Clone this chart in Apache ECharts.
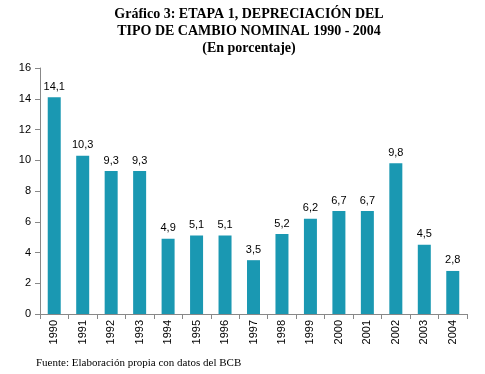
<!DOCTYPE html>
<html><head><meta charset="utf-8">
<script src="https://cdn.jsdelivr.net/npm/echarts@6/dist/echarts.min.js"></script>
<style>html,body{margin:0;padding:0;background:#fff}#c{width:485px;height:374px}</style>
</head><body><div id="c"></div>
<script>
const categories = ['1990','1991','1992','1993','1994','1995','1996','1997','1998','1999','2000','2001','2002','2003','2004'];
const values = [14.1,10.3,9.3,9.3,4.9,5.1,5.1,3.5,5.2,6.2,6.7,6.7,9.8,4.5,2.8];
const titleLines = ['Gráfico 3: ETAPA 1, DEPRECIACIÓN DEL','TIPO DE CAMBIO NOMINAL 1990 - 2004','(En porcentaje)'];
const footer = 'Fuente: Elaboración propia con datos del BCB';

const chart = echarts.init(document.getElementById('c'), null, {renderer:'canvas'});
chart.setOption({
  animation:false,
  title:[
    {text: titleLines.join('\n'), left: 244, textAlign:'center', top: 1,
     textStyle:{fontFamily:'Liberation Serif', fontWeight:'bold', fontSize:14, color:'#000', lineHeight:17}},
    {text: footer, left: 36, top: 358, padding:0,
     textStyle:{fontFamily:'Liberation Serif', fontWeight:'normal', fontSize:11, color:'#000'}}
  ],
  grid:{left:40, right:18, top:68, bottom:60},
  xAxis:{type:'category', data:categories,
    axisLine:{lineStyle:{color:'#888'}},
    axisTick:{show:true, alignWithLabel:false, length:5, lineStyle:{color:'#888'}},
    axisLabel:{rotate:90, fontFamily:'Liberation Sans', fontSize:11, color:'#000', margin:6}},
  yAxis:{type:'value', min:0, max:16, interval:2,
    splitLine:{show:false},
    axisLine:{show:true, lineStyle:{color:'#888'}},
    axisTick:{show:true, length:5, lineStyle:{color:'#888'}},
    axisLabel:{fontFamily:'Liberation Sans', fontSize:11, color:'#000', margin:9}},
  series:[{type:'bar', data:values, barWidth:13,
    itemStyle:{color:'#1a98b2'},
    label:{show:true, position:'top', distance:5, fontFamily:'Liberation Sans', fontSize:11, color:'#000',
      formatter:p=>String(p.value).replace('.',',')}}]
});
</script></body></html>
